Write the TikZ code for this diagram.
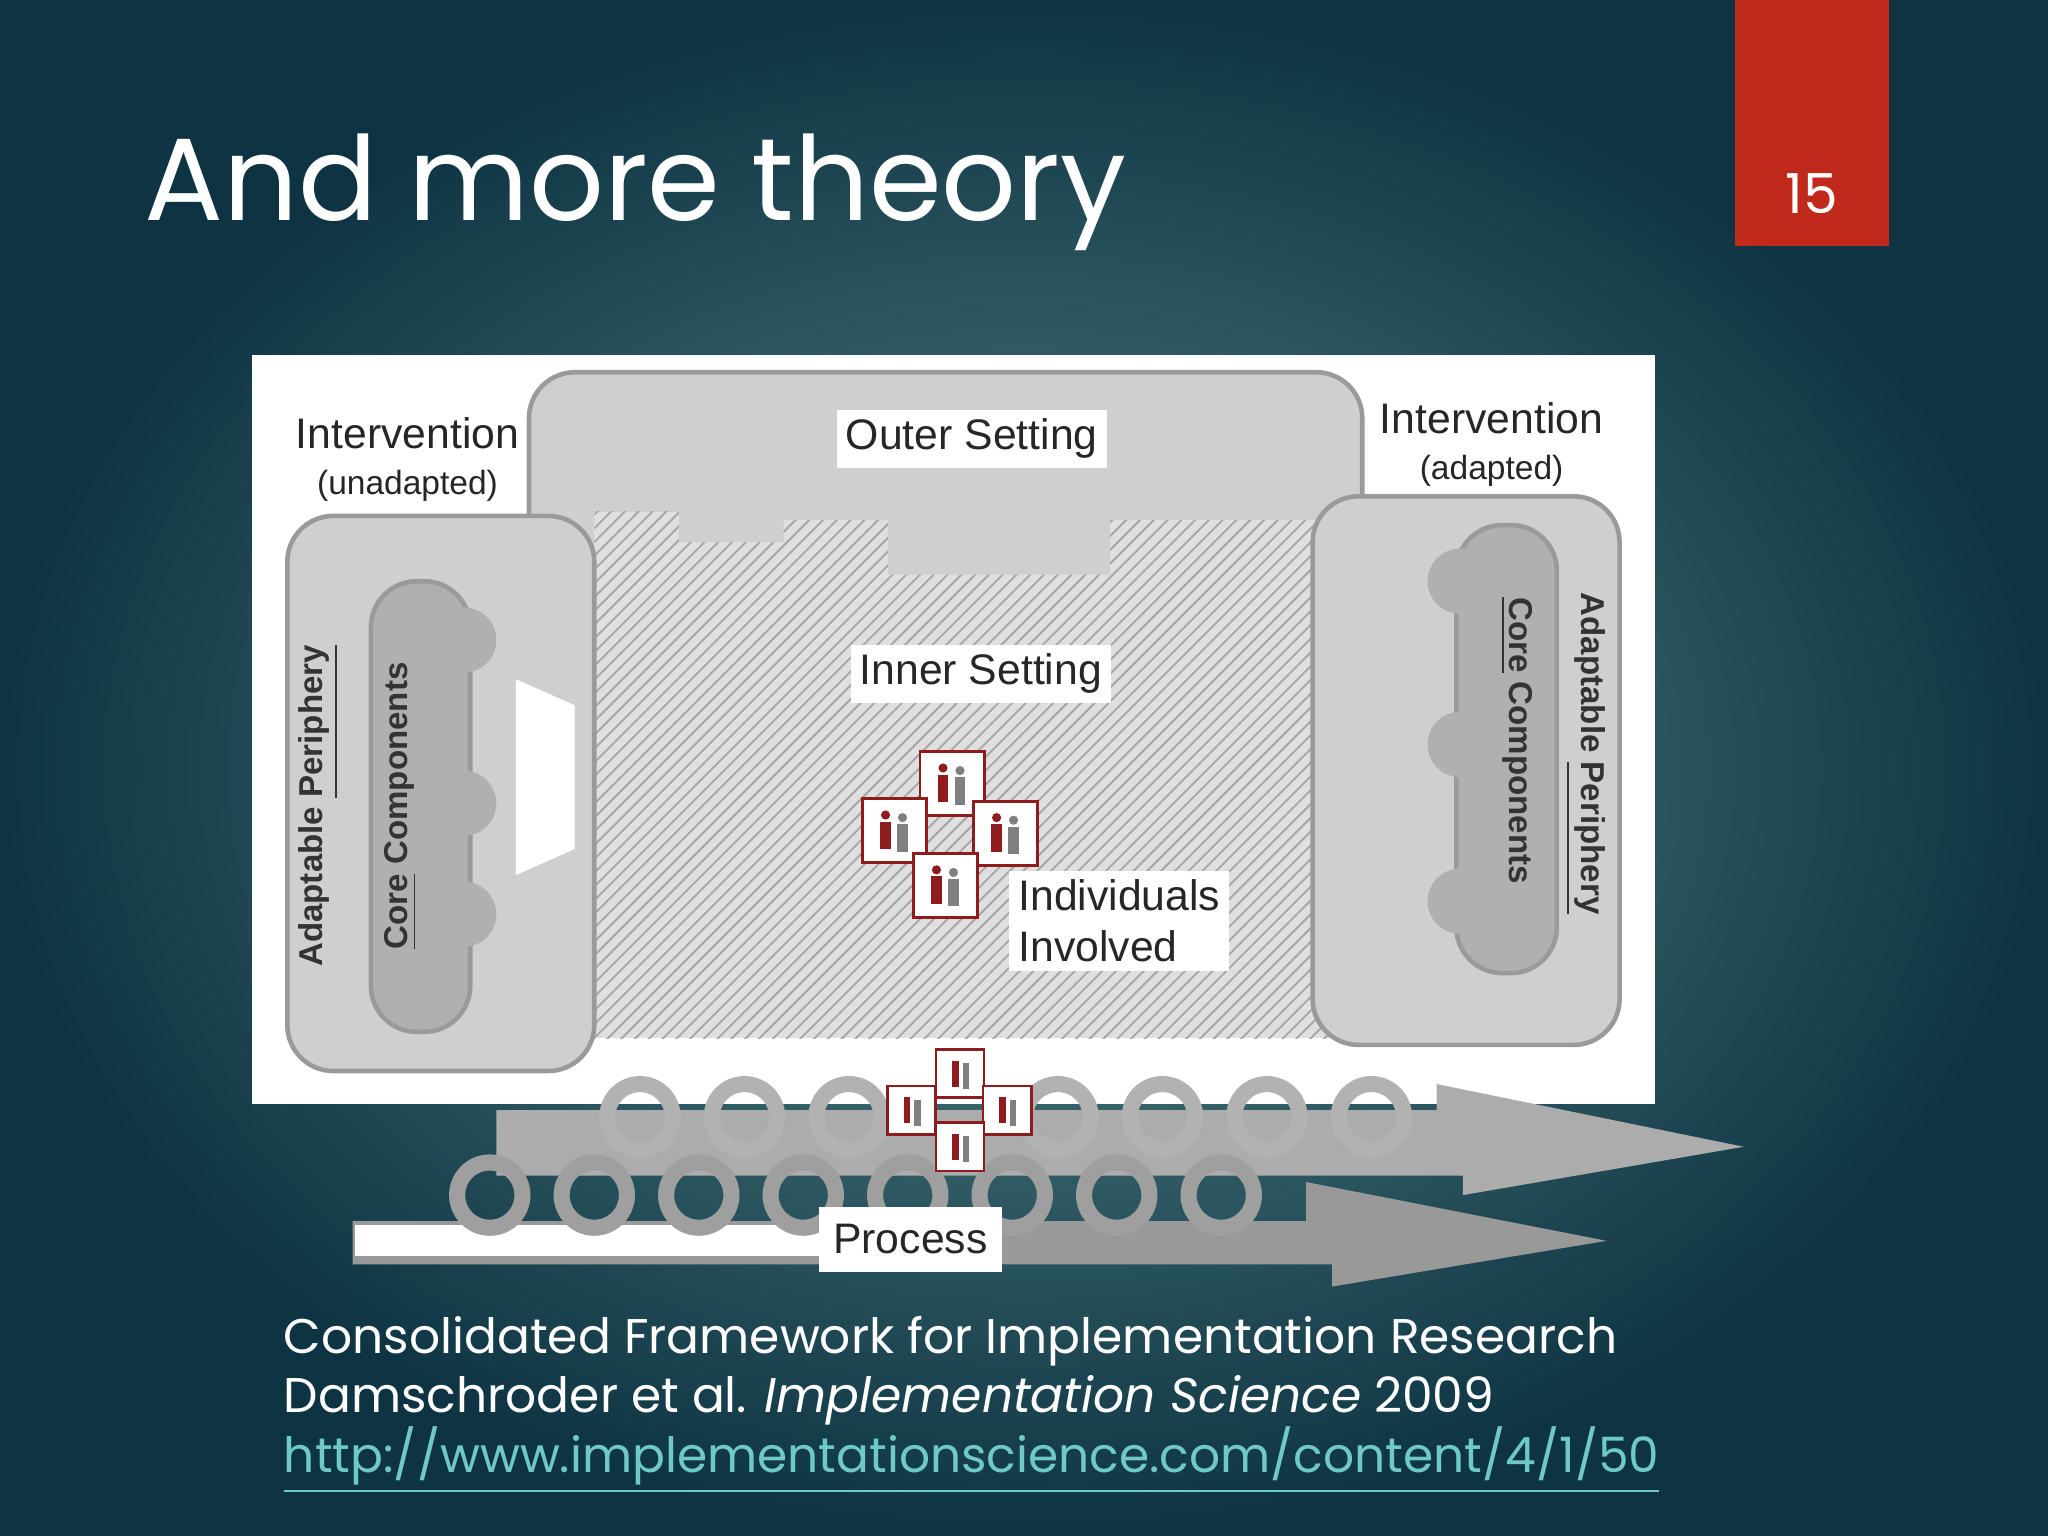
\documentclass[tikz,border=0pt]{standalone}
\usepackage{fontspec}
\setmainfont{Poppins}
\newfontfamily\diagfont{Liberation Sans}
\usetikzlibrary{patterns,shapes.arrows}
\definecolor{bgc}{HTML}{2E6B6C}
\definecolor{bgd}{HTML}{0E3443}
\definecolor{redbox}{HTML}{C0291B}
\definecolor{linkc}{HTML}{6FC9C9}
\definecolor{boxg}{HTML}{CFCFCF}
\definecolor{darkg}{HTML}{9A9A9A}
\definecolor{figred}{HTML}{8E1B1E}
\tikzset{
 lab/.style={fill=white,inner sep=2pt,font=\diagfont\fontsize{9.3}{11}\selectfont,text=black!85},
 side/.style={font=\diagfont\bfseries\fontsize{7.2}{9}\selectfont,text=black!80,rotate=90},
 gbox/.style={fill=boxg,draw=darkg,line width=1pt,rounded corners=10pt},
 cyc/.style={draw=gray!70!black,line width=3.5pt,fill=none},
 pers/.style={draw=figred,fill=white,line width=0.6pt,minimum size=10.5pt,inner sep=0},
 captxt/.style={anchor=west,text=white,font=\fontsize{10.6}{13}\selectfont},
}
\begin{document}
\begin{tikzpicture}[x=0.01cm,y=-0.01cm]
\shade[inner color=bgc!90!white!90, outer color=bgd] (0,0) rectangle (1568,1176);
\useasboundingbox (0,0) rectangle (1568,1176);
\node[anchor=west,text=white,font=\fontsize{25.5}{30}\selectfont] (title) at (98,147) {And more theory};
\fill[redbox] (1328,0) rectangle (1446,188);
\node[text=white,font=\fontsize{12}{14}\selectfont] (num) at (1387,148) {15};
% panel
\fill[white] (193,272) rectangle (1267,845);
% outer setting
\path[gbox] (405,285) rectangle (1043,440);
% inner hatch
\fill[gray!25] (455,392) rectangle (1030,795);
\path[pattern=north east lines,pattern color=gray!70] (455,392) rectangle (1030,795);
\fill[boxg] (455,390) -- (520,390) -- (520,415) -- (600,415) -- (600,398) -- (680,398) -- (680,440) -- (850,440) -- (850,398) -- (1030,398) -- (1030,385) -- (455,385) -- cycle;
% left intervention
\path[gbox] (220,395) rectangle (455,820);
\path[gbox,fill=boxg!85!black] (284,445) rectangle (360,790);
\foreach \yy in {490,615,700} \fill[boxg!85!black] (355,\yy) circle (25);
\fill[white] (395,520) -- (440,540) -- (440,650) -- (395,670) -- cycle;
% right intervention
\path[gbox] (1005,380) rectangle (1240,800);
\path[gbox,fill=boxg!85!black] (1115,402) rectangle (1192,745);
\foreach \yy in {445,570,690} \fill[boxg!85!black] (1118,\yy) circle (25);
% labels
\node[lab] (outer) at (744,336) {Outer Setting};
\node[lab] (inner) at (751,516) {Inner Setting};
\node[lab,align=left] (indiv) at (857,705) {Individuals\\Involved};
\node[lab,fill=none,align=center] (il) at (312,352) {Intervention\\[-1pt]{\diagfont\fontsize{7.3}{9}\selectfont(unadapted)}};
\node[lab,fill=none,align=center] (ir) at (1142,340) {Intervention\\[-1pt]{\diagfont\fontsize{7.3}{9}\selectfont(adapted)}};
\node[side] (ap1) at (244,617) {Adaptable \underline{Periphery}};
\node[side] (cc1) at (307,617) {\underline{Core} Components};
\node[side,rotate=180] (cc2) at (1161,567) {\underline{Core} Components};
\node[side,rotate=180] (ap2) at (1214,577) {Adaptable \underline{Periphery}};
% people
\foreach \px/\py [count=\i] in {729/600,685/636,770/638,724/678}{
 \node[pers,minimum size=14pt] (p\i) at (\px,\py) {};
 \fill[figred] (\px-7,\py-12) circle (3.5); \fill[figred] (\px-11,\py-7) rectangle (\px-3,\py+14);
 \fill[gray] (\px+6,\py-10) circle (3.5); \fill[gray] (\px+2,\py-5) rectangle (\px+10,\py+16);
}
% arrows
\fill[gray!65] (380,850) -- (1100,850) -- (1100,830) -- (1335,878) -- (1120,915) -- (1120,900) -- (380,900) -- cycle;
\fill[gray!80] (270,935) -- (1000,935) -- (1000,905) -- (1230,950) -- (1020,985) -- (1020,968) -- (270,968) -- cycle;
\fill[white] (272,938) rectangle (630,962);
\foreach \cx in {490,570,650,810,890,970,1050} \draw[cyc,draw=gray!60] (\cx,855) circle (25);
\foreach \cx in {375,455,535,615,695,775,855,935} \draw[cyc,draw=gray!75] (\cx,915) circle (25);
\foreach \px/\py [count=\i] in {735/822,698/850,771/850,735/878}{
 \node[pers] (q\i) at (\px,\py) {};
 \fill[figred] (\px-6,\py-10) rectangle (\px-1,\py+10); \fill[gray] (\px+2,\py-8) rectangle (\px+7,\py+12);
}
\node[lab,minimum width=40pt,minimum height=14pt] (proc) at (697,949) {Process};
% caption
\node[captxt] (c1) at (205,1027) {Consolidated Framework for Implementation Research};
\node[captxt] (c2) at (205,1072) {Damschroder et al. \textit{Implementation Science} 2009};
\node[captxt,text=linkc] (c3) at (205,1118) {\underline{http://www.implementationscience.com/content/4/1/50}};
\end{tikzpicture}
\end{document}
